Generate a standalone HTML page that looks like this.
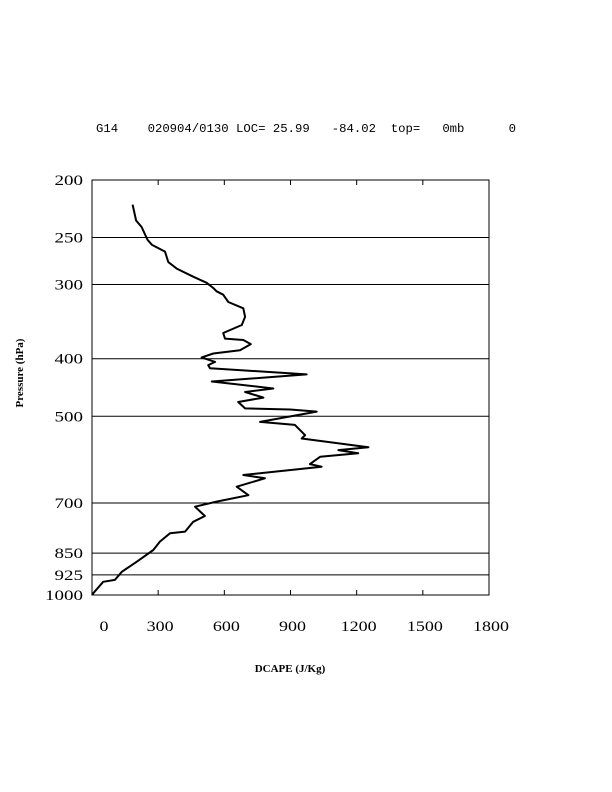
<!DOCTYPE html>
<html><head><meta charset="utf-8"><style>
html,body{margin:0;padding:0;background:#fff;}
svg{display:block;font-family:"Liberation Serif",serif;}
</style></head><body>
<svg id="chart" width="612" height="792" viewBox="0 0 612 792">
<text x="96" y="132" font-size="12" font-family="Liberation Mono, monospace" textLength="420" lengthAdjust="spacingAndGlyphs" xml:space="preserve">G14    020904/0130 LOC= 25.99   -84.02  top=   0mb      0</text>
<g id="grid"></g>
<g id="ticks"></g>
<g id="labels"></g>
<rect x="92" y="180" width="397" height="415" fill="none" stroke="#000" stroke-width="1"/>
<polyline id="curve" fill="none" stroke="#000" stroke-width="2" stroke-linejoin="round"/>
<text x="23" y="373" font-size="11" font-weight="bold" text-anchor="middle" transform="rotate(-90 23 373)">Pressure (hPa)</text>
<text x="290" y="672" font-size="11" font-weight="bold" text-anchor="middle">DCAPE (J/Kg)</text>
</svg>
<script>
const pressureLevels=[200,250,300,400,500,700,850,925,1000];
const xTickValues=[0,300,600,900,1200,1500,1800];
const profilePressure=[220,234,240,252,257,264,275,282,291,298,304,308,312,321,329,340,351,362,370,372,378,387,392,398,405,410,415,425,437,449,455,465,473,485,487,491,511,517,538,545,564,570,577,585,602,608,628,636,657,679,696,710,736,753,782,787,813,840,879,914,943,950,993,1000];
const profileDcape=[184,200,225,251,271,331,346,384,459,520,550,565,595,618,686,694,679,595,603,686,720,671,550,497,558,527,535,973,543,822,694,777,663,694,898,1019,762,920,966,951,1253,1117,1207,1034,988,1041,686,784,656,709,565,467,512,459,422,354,308,278,203,135,104,51,6,0];
const X0=92,X1=489,Y0=180,Y1=595;
function xs(v){return X0+(v/1800)*(X1-X0);}
function ys(p){return Y0+Math.log(p/200)/Math.log(1000/200)*(Y1-Y0);}
const NS="http://www.w3.org/2000/svg";
const grid=document.getElementById('grid'),ticks=document.getElementById('ticks'),labels=document.getElementById('labels');
pressureLevels.forEach(p=>{
  const y=ys(p);
  if(p!==200&&p!==1000){
    const l=document.createElementNS(NS,'line');
    l.setAttribute('x1',X0);l.setAttribute('x2',X1);l.setAttribute('y1',y);l.setAttribute('y2',y);
    l.setAttribute('stroke','#000');l.setAttribute('stroke-width','1');
    
    
    grid.appendChild(l);
  }
  const t=document.createElementNS(NS,'text');
  t.setAttribute('x',83);t.setAttribute('y',y+5);t.setAttribute('text-anchor','end');t.setAttribute('font-size','15');
  t.setAttribute('textLength',String(p).length*9.5);t.setAttribute('lengthAdjust','spacingAndGlyphs');
  t.textContent=p;
  
  
  labels.appendChild(t);
});
xTickValues.forEach((v,i)=>{
  const x=xs(v);
  if(v>0&&v<1800){
    [[Y1,Y1-5],[Y0,Y0+5]].forEach(([a,b])=>{
      const l=document.createElementNS(NS,'line');
      l.setAttribute('x1',x);l.setAttribute('x2',x);l.setAttribute('y1',a);l.setAttribute('y2',b);
      l.setAttribute('stroke','#000');
      
      
      ticks.appendChild(l);
    });
  }
  const t=document.createElementNS(NS,'text');
  t.setAttribute('x',i===0?x+12:x+2);t.setAttribute('y',631);t.setAttribute('text-anchor','middle');t.setAttribute('font-size','15');
  t.setAttribute('textLength',String(v).length*9);t.setAttribute('lengthAdjust','spacingAndGlyphs');
  t.textContent=v;
  
  
  labels.appendChild(t);
});
document.getElementById('curve').setAttribute('points',profilePressure.map((p,i)=>xs(profileDcape[i]).toFixed(1)+','+ys(p).toFixed(1)).join(' '));
</script>
</body></html>
